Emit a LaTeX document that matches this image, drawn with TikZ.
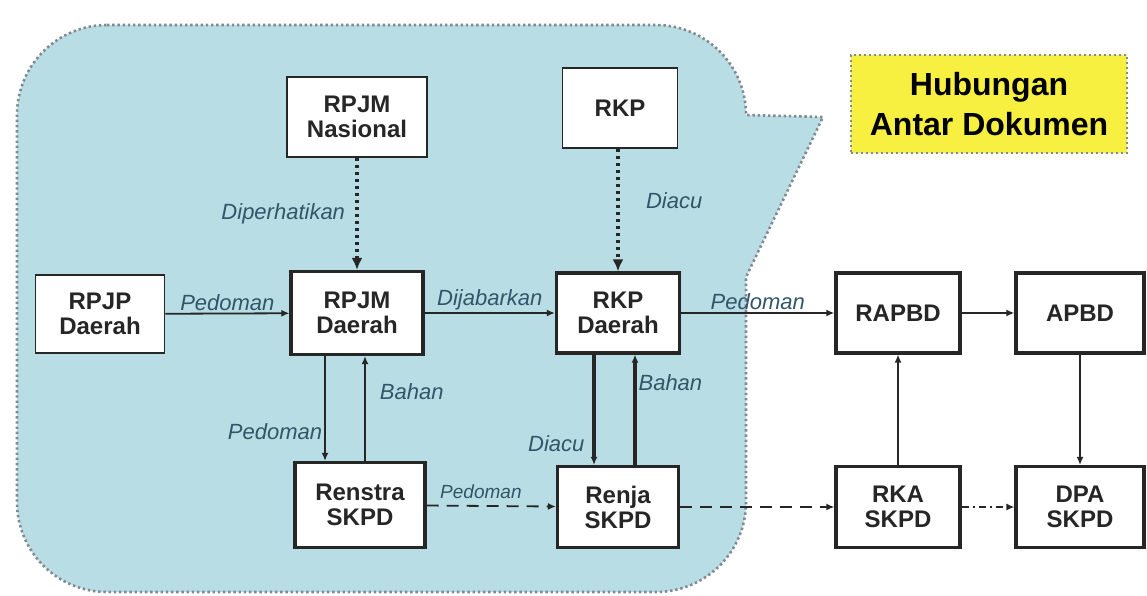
\documentclass[tikz,border=0pt]{standalone}
\usepackage{fontspec}
\setmainfont{Liberation Sans}
\usetikzlibrary{arrows.meta, positioning}
\definecolor{calloutblue}{RGB}{184,221,228}
\definecolor{calloutgray}{RGB}{128,138,144}
\definecolor{hubyellow}{RGB}{248,240,64}
\definecolor{lblblue}{RGB}{50,85,105}

\begin{document}
\begin{tikzpicture}[
    x=1pt, y=1pt,
    every node/.style={font=\fontsize{24}{25}\selectfont\bfseries, text=black!85},
    doc/.style={rectangle, draw=black!85, fill=white, align=center, inner sep=0pt, line width=1.6pt},
    docb/.style={doc, line width=3.2pt},
    hub/.style={rectangle, draw=calloutgray, fill=hubyellow, align=center, line width=2.4pt, dash pattern=on 2.4pt off 2.6pt, font=\fontsize{32}{40}\selectfont\bfseries, text=black},
    lbl/.style={font=\fontsize{22}{24}\selectfont\itshape, text=lblblue, inner sep=2pt},
    line/.style={-{Latex[length=8pt,width=7pt]}, line width=1.8pt, draw=black!85},
    dotline/.style={-{Latex[length=12pt,width=11pt]}, line width=4pt, dash pattern=on 3.5pt off 3.5pt, draw=black!85},
    callout/.style={draw=calloutgray, fill=calloutblue, line width=2.6pt, dash pattern=on 2.4pt off 2.8pt}
]
\useasboundingbox (0,0) rectangle (1147,595);

% Shaded callout behind the planning documents
\draw[callout] (107,570) -- (656,570) arc[start angle=90, end angle=0, radius=90]
    -- (823,478) -- (746,318) -- (746,93) arc[start angle=0, end angle=-90, radius=90]
    -- (107,3) arc[start angle=270, end angle=180, radius=90]
    -- (17,480) arc[start angle=180, end angle=90, radius=90] -- cycle;

% Nodes for the national documents
\node[doc, minimum width=140pt, minimum height=80pt] (nas) at (357,478) {RPJM\\Nasional};
\node[doc, minimum width=115pt, minimum height=80pt] (rkp) at (620,487) {RKP};
\node[hub, minimum width=276pt, minimum height=98pt] (hub) at (989,491) {Hubungan\\Antar Dokumen};

% Regional documents
\node[doc, minimum width=129pt, minimum height=78pt] (rpjp) at (100,281) {RPJP\\Daerah};
\node[docb, minimum width=132pt, minimum height=83pt] (rpjmd) at (357,282) {RPJM\\Daerah};
\node[docb, minimum width=123pt, minimum height=80pt] (rkpd) at (618,282) {RKP\\Daerah};
\node[docb, minimum width=124pt, minimum height=80pt] (rapbd) at (898,282) {RAPBD};
\node[docb, minimum width=128pt, minimum height=80pt] (apbd) at (1080,282) {APBD};

% SKPD documents
\node[docb, minimum width=130pt, minimum height=85pt] (renstra) at (360,90) {Renstra\\SKPD};
\node[docb, minimum width=121pt, minimum height=81pt] (renja) at (618,88) {Renja\\SKPD};
\node[docb, minimum width=124pt, minimum height=81pt] (rka) at (898,88) {RKA\\SKPD};
\node[docb, minimum width=128pt, minimum height=81pt] (dpa) at (1080,88) {DPA\\SKPD};

% Dotted links from the national level
\draw[dotline] (nas.south) -- node[lbl, left=8pt] {Diperhatikan} (rpjmd.north);
\draw[dotline] (rkp.south -| rkpd.north) -- node[lbl, pos=0.42, right=24pt] {Diacu} (rkpd.north);

% Main row
\draw[line] (rpjp) -- node[lbl, above] {Pedoman} (rpjmd);
\draw[line] (rpjmd) -- node[lbl, above] {Dijabarkan} (rkpd);
\draw[line] (rkpd) -- node[lbl, above] {Pedoman} (rapbd);
\draw[line] (rapbd) -- (apbd);

% Links between the rows
\draw[line] ([xshift=-32pt]rpjmd.south) -- node[lbl, pos=0.72, left=0pt] {Pedoman} ([xshift=-32pt]rpjmd.south |- renstra.north);
\draw[line] ([xshift=8pt]rpjmd.south |- renstra.north) -- node[lbl, pos=0.66, right=12pt] {Bahan} ([xshift=8pt]rpjmd.south);
\draw[line, line width=3.2pt] ([xshift=-24pt]rkpd.south) -- node[lbl, pos=0.81, left=6pt] {Diacu} ([xshift=-24pt]rkpd.south |- renja.north);
\draw[line, line width=3.2pt] ([xshift=17pt]rkpd.south |- renja.north) -- node[lbl, pos=0.75, right=0pt] {Bahan} ([xshift=17pt]rkpd.south);
\draw[line, line width=1.4pt] (rka) -- (rapbd);
\draw[line, line width=1.4pt] (apbd) -- (dpa);

% Dashed row at the bottom
\draw[line, dash pattern=on 12pt off 8pt] (renstra) -- node[lbl, pos=0.42, above=4pt, font=\fontsize{19}{20}\selectfont\itshape] {Pedoman} (renja);
\draw[line, dash pattern=on 12pt off 8pt] (renja) -- (rka);
\draw[line, line width=1.4pt, dash pattern=on 7pt off 4pt on 2pt off 4pt] (rka) -- (dpa);

\end{tikzpicture}
\end{document}
